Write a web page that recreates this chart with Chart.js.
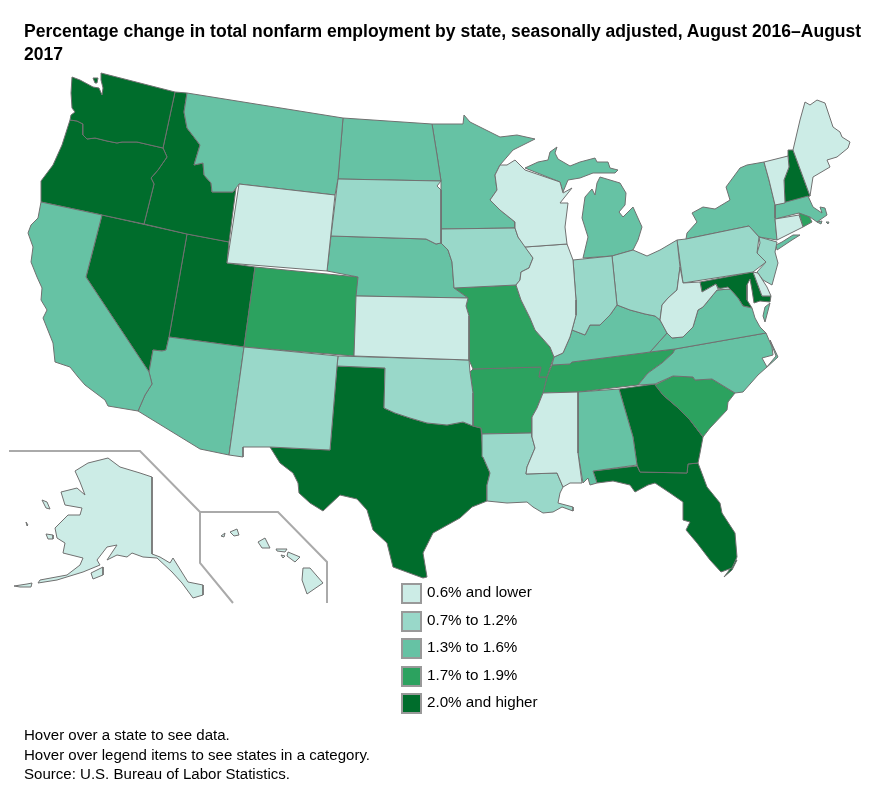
<!DOCTYPE html>
<html><head><meta charset="utf-8">
<script src="https://cdn.jsdelivr.net/npm/chart.js@4"></script>
<style>
html,body{margin:0;padding:0;background:#fff}
#wrap{position:relative;width:885px;height:808px;overflow:hidden;font-family:"Liberation Sans",Arial,sans-serif;color:#000}
canvas{position:absolute;left:0;top:0}
#title{position:absolute;left:24px;top:20px;width:845px;font-weight:bold;font-size:17.55px;line-height:23px}
#legend{position:absolute;left:401px;top:583px}
.row{position:absolute;left:0;white-space:nowrap;font-size:15.2px;line-height:20px}
.sw{position:absolute;left:0;top:0;width:17px;height:17px;border:2px solid #999}
.lb{position:absolute;left:26px;top:-1px}
#notes{position:absolute;left:24px;top:725px;font-size:15.05px;line-height:19.5px}
</style></head><body>
<div id="wrap"><canvas id="c" width="885" height="808"></canvas>
<div id="title">Percentage change in total nonfarm employment by state, seasonally adjusted, August 2016–August 2017</div>
<div id="legend"></div>
<div id="notes">Hover over a state to see data.<br>Hover over legend items to see states in a category.<br>Source: U.S. Bureau of Labor Statistics.</div>
</div>
<script>
const categories=["0.6% and lower","0.7% to 1.2%","1.3% to 1.6%","1.7% to 1.9%","2.0% and higher"];
const colors=["#CCECE6","#99D8C9","#66C2A4","#2CA25F","#006D2C"];
const WA=[[101,73],[175,92],[163,148],[137,142],[122,142],[117,143],[107,141],[95,138],[87,139],[83,135],[83,124],[77,121],[70,120],[71,115],[75,112],[72,108],[71,93],[72,77],[80,80],[93,87],[99,88],[102,95],[103,88],[101,80]];
const WA_I=[[93,78],[98,78],[97,83],[95,83]];
const OR=[[70,120],[77,121],[83,124],[83,135],[87,139],[95,138],[107,141],[117,143],[122,142],[137,142],[163,148],[167,157],[158,170],[151,178],[154,184],[144,224],[102,215],[41,202],[41,181],[53,165],[62,145]];
const ID=[[175,92],[187,93],[184,112],[187,128],[200,145],[194,165],[203,163],[204,175],[211,183],[212,192],[233,192],[236,188],[229,242],[187,234],[144,224],[154,184],[151,178],[158,170],[167,157],[163,148]];
const MT=[[187,93],[343,118],[338,179],[335,195],[239,184],[236,188],[233,192],[212,192],[211,183],[204,175],[203,163],[194,165],[200,145],[187,128],[184,112]];
const ND=[[343,118],[432,124],[437,155],[441,181],[338,179]];
const SD=[[338,179],[441,181],[437,186],[441,190],[441,243],[436,244],[426,239],[331,236]];
const WY=[[239,184],[335,195],[327,271],[227,263]];
const UT=[[187,234],[229,242],[227,263],[255,267],[244,347],[169,337]];
const NV=[[102,215],[187,234],[169,337],[166,350],[162,351],[153,350],[149,372],[86,277]];
const CA=[[41,202],[102,215],[86,277],[149,372],[152,384],[145,395],[138,411],[108,406],[105,400],[85,385],[78,377],[70,367],[55,362],[53,343],[43,318],[47,310],[41,300],[42,288],[37,277],[31,262],[33,247],[28,233],[31,225],[38,218]];
const AZ=[[153,350],[162,351],[166,350],[169,337],[244,347],[229,455],[200,449],[138,411],[145,395],[152,384],[149,372]];
const NM=[[244,347],[338,356],[337,366],[330,450],[270,447],[243,447],[243,457],[229,455]];
const CO=[[255,267],[358,277],[354,356],[244,347]];
const NE=[[331,236],[426,239],[436,244],[441,243],[448,250],[452,262],[454,288],[468,298],[356,296],[358,277],[327,271]];
const KS=[[356,296],[468,298],[466,306],[469,316],[469,360],[354,356]];
const OK=[[338,356],[469,360],[470,372],[473,393],[473,426],[463,422],[447,425],[427,423],[410,418],[395,413],[384,408],[385,368],[337,366]];
const TX=[[337,366],[385,368],[384,408],[395,413],[410,418],[427,423],[447,425],[463,422],[473,426],[481,428],[483,457],[490,473],[487,485],[487,501],[472,507],[460,518],[433,533],[423,553],[427,577],[423,578],[393,567],[387,543],[373,530],[367,510],[357,499],[340,495],[323,511],[310,503],[299,493],[298,483],[293,473],[280,463],[270,447],[330,450]];
const MN=[[432,124],[463,124],[464,115],[470,122],[500,137],[517,135],[535,139],[513,150],[500,165],[495,175],[497,190],[490,200],[500,210],[515,222],[515,228],[441,229],[441,181],[437,155]];
const IA=[[441,229],[515,228],[518,237],[525,246],[533,258],[529,268],[521,272],[520,280],[516,285],[454,288],[452,262],[448,250],[441,243]];
const MO=[[454,288],[516,285],[521,300],[530,318],[535,330],[550,347],[554,357],[552,362],[547,377],[539,377],[541,367],[473,369],[469,360],[469,316],[466,306],[468,298]];
const AR=[[473,369],[541,367],[539,377],[547,377],[543,393],[537,408],[532,417],[532,433],[482,434],[481,428],[473,426],[473,393],[470,372]];
const LA=[[482,434],[532,433],[532,437],[535,448],[527,467],[526,474],[557,473],[560,480],[563,487],[560,493],[558,503],[573,507],[573,511],[562,507],[553,512],[543,513],[533,507],[527,502],[507,503],[487,501],[487,485],[490,473],[483,457]];
const WI=[[500,165],[507,165],[515,160],[520,165],[525,170],[560,182],[563,193],[572,188],[560,203],[568,203],[565,227],[567,244],[525,247],[518,237],[515,228],[515,222],[500,210],[490,200],[497,190],[495,175]];
const IL=[[525,247],[567,244],[573,260],[576,300],[576,315],[572,330],[570,337],[563,353],[554,357],[550,347],[535,330],[530,318],[521,300],[516,285],[520,280],[521,272],[529,268],[533,258]];
const MI_UP=[[525,168],[538,162],[548,160],[550,152],[557,147],[555,153],[558,159],[570,166],[580,162],[595,158],[597,162],[608,162],[610,168],[618,170],[615,173],[593,173],[580,178],[568,180],[563,192],[560,182]];
const MI_LP=[[600,177],[620,183],[626,193],[625,205],[619,212],[623,217],[633,207],[642,227],[638,240],[633,250],[612,256],[583,258],[588,237],[582,218],[585,197],[592,189],[595,195],[597,183]];
const IN=[[573,260],[612,256],[617,305],[610,315],[600,325],[590,325],[585,335],[572,330],[576,315],[576,300]];
const OH=[[612,256],[633,250],[647,256],[660,250],[677,240],[680,267],[677,290],[668,298],[662,305],[660,320],[655,316],[645,314],[630,310],[617,305]];
const KY=[[554,357],[563,353],[570,337],[572,330],[585,335],[590,325],[600,325],[610,315],[617,305],[630,310],[645,314],[655,316],[660,320],[667,333],[650,352],[643,353],[572,362],[570,364],[552,365]];
const TN=[[552,365],[570,364],[572,362],[643,353],[650,352],[675,349],[673,353],[662,363],[648,373],[638,385],[578,392],[543,393],[547,377]];
const WV=[[680,267],[683,283],[700,282],[702,292],[716,284],[718,289],[728,287],[730,289],[717,290],[703,307],[698,310],[693,327],[683,337],[672,338],[667,333],[660,320],[662,305],[668,298],[677,290]];
const VA=[[650,352],[667,333],[672,338],[683,337],[693,327],[698,310],[703,307],[717,290],[730,289],[738,298],[743,306],[752,308],[755,318],[760,327],[766,333],[675,349]];
const VA_ES=[[765,307],[770,303],[765,322],[763,316]];
const MD=[[700,282],[753,272],[762,296],[771,296],[770,302],[760,301],[754,303],[752,290],[750,279],[747,285],[747,300],[752,308],[743,306],[738,298],[730,289],[718,288],[716,284],[702,292]];
const DE=[[753,272],[758,273],[767,287],[771,296],[762,296]];
const NJ=[[759,237],[777,242],[775,252],[778,263],[772,285],[763,280],[757,272],[766,262],[757,253],[760,243]];
const PA=[[677,240],[686,239],[749,226],[759,237],[757,253],[766,262],[753,272],[683,283]];
const NY=[[686,239],[687,233],[697,222],[692,213],[703,207],[715,209],[730,200],[726,187],[740,168],[747,165],[764,162],[769,180],[775,205],[775,218],[777,240],[759,237],[749,226]];
const NY_LI=[[776,245],[777,250],[792,240],[800,235],[793,235],[782,242]];
const VT=[[764,162],[788,156],[789,167],[784,180],[785,203],[775,205],[769,180]];
const NH=[[788,150],[793,150],[810,196],[785,203],[784,180],[789,167],[788,156]];
const ME=[[793,150],[800,120],[805,102],[810,105],[817,100],[825,103],[833,127],[840,132],[842,137],[850,142],[848,148],[837,157],[827,160],[830,167],[813,177],[810,196]];
const MA=[[775,205],[808,196],[813,207],[822,213],[820,207],[825,208],[827,215],[817,222],[810,217],[799,213],[775,219]];
const MA_I1=[[817,222],[822,221],[821,224]];
const MA_I2=[[826,222],[829,222],[828,224]];
const RI=[[799,213],[807,212],[812,222],[803,227]];
const CT=[[775,219],[799,215],[803,227],[777,240]];
const NC=[[675,349],[766,333],[772,347],[773,355],[762,358],[767,367],[758,375],[743,392],[735,393],[712,379],[695,380],[693,377],[673,376],[655,384],[638,385],[648,373],[662,363],[673,353]];
const NC_OB=[[770,340],[778,357],[766,368],[776,356]];
const SC=[[655,385],[673,376],[693,377],[695,380],[712,379],[735,393],[728,402],[727,410],[710,428],[703,437],[690,420],[677,407],[663,395]];
const GA=[[619,389],[655,384],[663,395],[677,407],[690,420],[703,437],[700,453],[698,463],[688,464],[687,473],[640,472],[637,465],[633,437]];
const AL=[[578,392],[619,389],[633,437],[637,465],[593,471],[597,483],[590,485],[588,478],[583,483],[578,453]];
const MS=[[543,393],[578,392],[578,453],[582,483],[570,483],[563,487],[560,480],[557,473],[526,474],[527,467],[535,448],[532,437],[532,417],[537,408]];
const FL=[[593,471],[637,466],[640,472],[687,473],[688,464],[698,463],[707,487],[720,503],[722,513],[735,533],[737,557],[732,568],[721,572],[710,560],[697,543],[686,530],[690,522],[683,520],[683,502],[670,493],[655,483],[648,485],[635,492],[630,485],[613,481],[597,483]];
const FL_KEYS=[[737,560],[732,570],[724,577],[730,569],[735,560]];
const AK=[[75,471],[88,463],[108,458],[120,467],[140,473],[152,477],[152,554],[160,557],[170,563],[173,558],[188,582],[203,585],[203,595],[193,598],[182,583],[172,572],[157,558],[143,557],[132,553],[127,557],[117,555],[107,560],[117,545],[107,547],[97,560],[100,565],[83,572],[57,580],[38,583],[40,580],[67,575],[80,565],[83,558],[63,553],[65,543],[57,538],[55,528],[68,515],[80,515],[82,508],[65,505],[61,492],[77,488],[85,495],[80,482]];
const AK_I1=[[42,500],[47,502],[50,509],[46,508]];
const AK_I2=[[46,534],[53,535],[53,539],[48,539]];
const AK_I3=[[91,573],[103,567],[103,575],[93,579]];
const AK_I4=[[14,586],[27,584],[32,583],[31,587],[20,587]];
const AK_I5=[[26,522],[28,525],[27,526]];
const HI_1=[[303,568],[310,568],[323,583],[307,594],[302,580]];
const HI_2=[[288,552],[300,557],[295,562],[287,556]];
const HI_3=[[276,549],[287,549],[285,552],[277,551]];
const HI_4=[[281,555],[285,556],[283,558]];
const HI_5=[[258,542],[265,538],[270,548],[262,548]];
const HI_6=[[230,532],[237,529],[239,535],[234,536]];
const HI_7=[[221,536],[225,533],[224,537]];
const DC=[[740,293]];
const frameAK=[[9,451],[140,451],[200,512],[200,563],[233,603]];
const frameHI=[[200,512],[278,512],[327,562],[327,603]];
const lowest=[WY,KS,WI,IL,MS,WV,VT,CT,ME,DE,AK,AK_I1,AK_I2,AK_I3,AK_I4,AK_I5,HI_1,HI_2,HI_3,HI_4,HI_5,HI_6,HI_7];
const low=[SD,IA,NM,OK,LA,IN,OH,PA,NJ];
const mid=[CA,AZ,MT,ND,MN,NE,MI_UP,MI_LP,KY,VA,VA_ES,NC,NC_OB,AL,NY,NY_LI,MA,MA_I1,MA_I2];
const high=[CO,MO,AR,TN,SC,RI];
const highest=[WA,WA_I,OR,ID,NV,UT,TX,GA,FL,FL_KEYS,NH,MD];
const groups=[lowest,low,mid,high,highest];

const datasets=[];
groups.forEach((g,i)=>g.forEach(pts=>datasets.push({data:pts.concat([pts[0]]),showLine:true,fill:'shape',tension:0,pointRadius:0,
  backgroundColor:colors[i],borderColor:'#707070',borderWidth:1,borderJoinStyle:'round'})));
datasets.push({data:DC,pointRadius:5,backgroundColor:colors[3],borderColor:colors[3],borderWidth:0,showLine:false});
[frameAK,frameHI].forEach(f=>datasets.push({data:f,showLine:true,fill:false,tension:0,pointRadius:0,borderColor:'#aaaaaa',borderWidth:2}));

new Chart(document.getElementById('c'),{type:'scatter',data:{datasets},options:{
  responsive:false,animation:false,events:[],layout:{padding:0,autoPadding:false},
  plugins:{legend:{display:false},title:{display:false},tooltip:{enabled:false}},
  scales:{x:{type:'linear',display:false,min:0,max:885},y:{type:'linear',display:false,min:0,max:808,reverse:true}}
}});
const lg=document.getElementById('legend');
categories.forEach((t,i)=>{const r=document.createElement('div');r.className='row';r.style.top=(i*27.6)+'px';
  r.innerHTML='<div class="sw" style="background:'+colors[i]+'"></div><div class="lb">'+t+'</div>';lg.appendChild(r);});
</script></body></html>
